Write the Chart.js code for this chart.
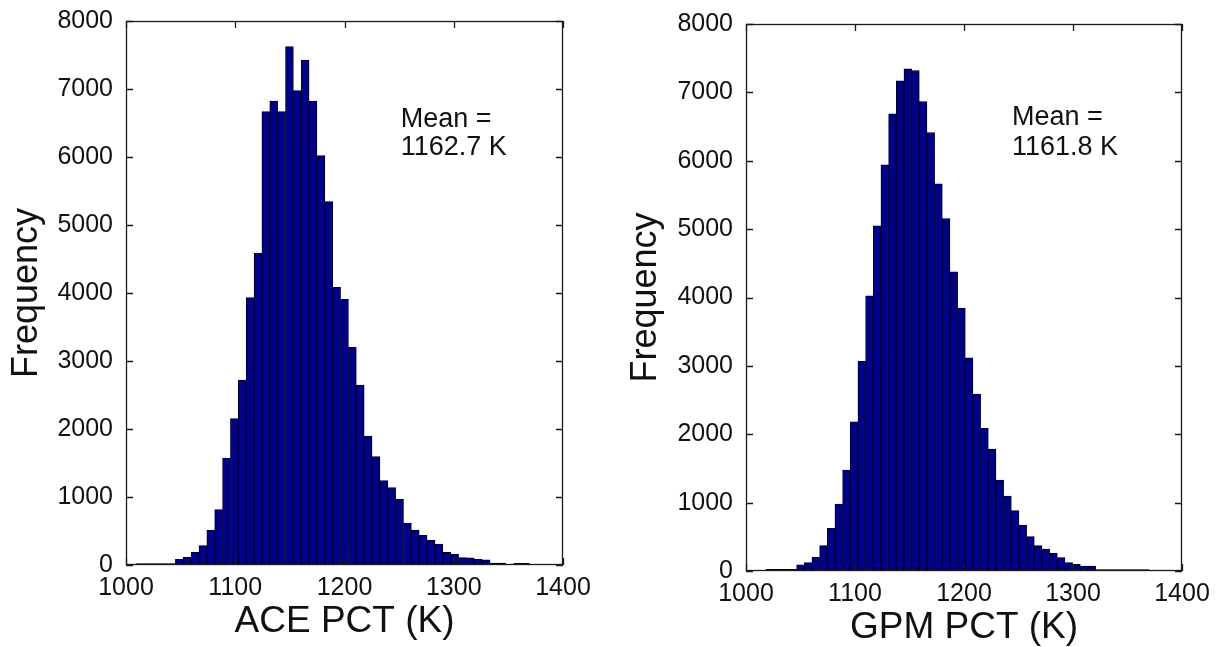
<!DOCTYPE html>
<html>
<head>
<meta charset="utf-8">
<script src="https://cdn.jsdelivr.net/npm/chart.js@4.4.1/dist/chart.umd.min.js"></script>
<style>
  html, body { margin: 0; padding: 0; background: #fff; }
  #wrap { position: relative; width: 1224px; height: 647px; overflow: hidden; }
  canvas { position: absolute; top: 0; }
  #aceChart { left: 0; }
  #gpmChart { left: 620px; }
</style>
</head>
<body>
<div id="wrap">
  <canvas id="aceChart" width="600" height="647"></canvas>
  <canvas id="gpmChart" width="604" height="647"></canvas>
</div>
<script>
//Histogram bins (50 bins each, like matlab hist)
var aceBinStart = 1009.2;
var aceBinWidth = 7.2;
var gpmBinStart = 1018.3;
var gpmBinWidth = 7.034;

//Counts per bin
var aceCounts = [20, 20, 20, 20, 20, 84, 113, 187, 284, 510,
                 814, 1569, 2152, 2721, 3931, 4583, 6667, 6824, 6667, 7622,
                 6975, 7426, 6824, 6020, 5343, 4083, 3907, 3201, 2647, 1897,
                 1593, 1240, 1140, 966, 615, 515, 436, 362, 309, 185,
                 157, 108, 106, 83, 76, 30, 30, 0, 25, 25];
var gpmCounts = [25, 25, 25, 25, 92, 122, 200, 370, 624, 980,
                 1477, 2183, 3066, 4025, 5048, 5940, 6686, 7168, 7344, 7320,
                 6867, 6413, 5662, 5156, 4376, 3845, 3119, 2588, 2086, 1784,
                 1330, 1096, 882, 672, 502, 370, 322, 258, 195, 122,
                 97, 73, 73, 20, 20, 20, 20, 20, 20, 20];

//Axis ticks
var xTicks = [1000, 1100, 1200, 1300, 1400];
var yTicks = [0, 1000, 2000, 3000, 4000, 5000, 6000, 7000, 8000];

var aceMean = 1162.7;
var gpmMean = 1161.8;

var fontName = '"Liberation Sans", Arial, sans-serif';
var barColor = '#00008f';
var inkColor = '#111';

function binPoints(start, width, counts) {
    var pts = [];
    for (var i = 0; i < counts.length; i++) {
        pts.push({ x: start + (i + 0.5) * width, y: counts[i] });
    }
    return pts;
}

//Plain numbers, no thousands separator
function plainLabel(v) {
    return String(v);
}

//Draws the box around the axes, the inward ticks and the mean text
var boxPlugin = {
    id: 'matlabBox',
    afterDatasetsDraw: function (chart, args, opts) {
        var ctx = chart.ctx;
        var a = chart.chartArea;
        var xs = chart.scales.x;
        var ys = chart.scales.y;
        ctx.save();
        ctx.strokeStyle = '#1a1a1a';
        ctx.lineWidth = 1.3;
        ctx.strokeRect(Math.round(a.left) + 0.5, Math.round(a.top) + 0.5,
            Math.round(a.right - a.left) - 1, Math.round(a.bottom - a.top) - 1);
        ctx.beginPath();
        xTicks.forEach(function (t) {
            var px = Math.round(xs.getPixelForValue(t)) + 0.5;
            ctx.moveTo(px, a.bottom); ctx.lineTo(px, a.bottom - 7);
            ctx.moveTo(px, a.top); ctx.lineTo(px, a.top + 7);
        });
        yTicks.forEach(function (t) {
            var py = Math.round(ys.getPixelForValue(t)) + 0.5;
            ctx.moveTo(a.left, py); ctx.lineTo(a.left + 7, py);
            ctx.moveTo(a.right, py); ctx.lineTo(a.right - 7, py);
        });
        ctx.stroke();

        ctx.fillStyle = inkColor;
        ctx.font = '27px ' + fontName;
        ctx.textBaseline = 'alphabetic';
        ctx.textAlign = 'left';
        var tx = xs.getPixelForValue(opts.textX);
        ctx.fillText('Mean =', tx, ys.getPixelForValue(opts.textY[0]));
        ctx.fillText(opts.mean.toFixed(1) + ' K', tx, ys.getPixelForValue(opts.textY[1]));
        ctx.restore();
    }
};

function makeHist(canvasId, points, title, layoutPad, xAxisHeight, titlePad, yTitlePad, textPos) {
    var ctx = document.getElementById(canvasId).getContext('2d');
    return new Chart(ctx, {
        type: 'bar',
        data: {
            datasets: [{
                data: points,
                backgroundColor: barColor,
                borderColor: '#000',
                borderWidth: 1,
                barPercentage: 1,
                categoryPercentage: 1
            }]
        },
        options: {
            responsive: false,
            animation: false,
            layout: { padding: layoutPad },
            plugins: {
                legend: { display: false },
                tooltip: { enabled: false },
                matlabBox: textPos
            },
            scales: {
                x: {
                    type: 'linear',
                    offset: false,
                    min: 1000,
                    max: 1400,
                    afterFit: function (s) { s.height = xAxisHeight; },
                    afterBuildTicks: function (s) {
                        s.ticks = xTicks.map(function (v) { return { value: v }; });
                    },
                    grid: { display: false },
                    border: { display: false },
                    ticks: {
                        color: inkColor,
                        padding: 0,
                        maxRotation: 0,
                        callback: plainLabel,
                        font: { family: fontName, size: 25 }
                    },
                    title: {
                        display: true,
                        text: title,
                        color: inkColor,
                        padding: { top: titlePad, bottom: titlePad },
                        font: { family: fontName, size: 37, lineHeight: 1 }
                    }
                },
                y: {
                    min: 0,
                    max: 8000,
                    afterFit: function (s) { s.width = 126; },
                    afterBuildTicks: function (s) {
                        s.ticks = yTicks.map(function (v) { return { value: v }; });
                    },
                    grid: { display: false },
                    border: { display: false },
                    ticks: {
                        color: inkColor,
                        padding: 5,
                        callback: plainLabel,
                        font: { family: fontName, size: 25 }
                    },
                    title: {
                        display: true,
                        text: 'Frequency',
                        color: inkColor,
                        padding: { top: yTitlePad, bottom: yTitlePad },
                        font: { family: fontName, size: 36, lineHeight: 1 }
                    }
                }
            }
        },
        plugins: [boxPlugin]
    });
}

var aceChart = makeHist('aceChart', binPoints(aceBinStart, aceBinWidth, aceCounts), 'ACE PCT (K)',
    { top: 21, right: 37, left: 0, bottom: 0 }, 82, 7, 9,
    { textX: 1251.5, textY: [6440, 6030], mean: aceMean });

var gpmChart = makeHist('gpmChart', binPoints(gpmBinStart, gpmBinWidth, gpmCounts), 'GPM PCT (K)',
    { top: 24, right: 42, left: 0, bottom: 0 }, 76, 1, 8,
    { textX: 1244, textY: [6520, 6082], mean: gpmMean });
</script>
</body>
</html>
